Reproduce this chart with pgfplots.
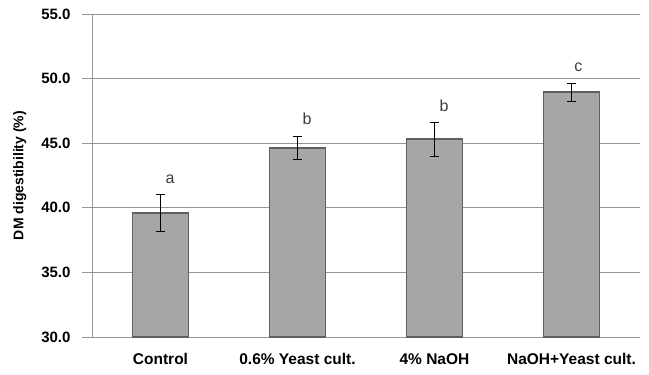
\documentclass[border=0pt]{standalone}
\usepackage{pgfplots}
\pgfplotsset{compat=1.18}
\usepackage{fontspec}
\setmainfont{Liberation Sans}
\definecolor{barfill}{RGB}{166,166,166}
\definecolor{baredge}{RGB}{95,95,95}
\definecolor{gridc}{RGB}{150,150,150}
\definecolor{letc}{RGB}{60,60,60}
\begin{document}
\begin{tikzpicture}
\useasboundingbox (-92pt,-38pt) rectangle (557pt,337pt);
\begin{axis}[
  at={(0,0)}, anchor=south west,
  scale only axis, width=548pt, height=323pt,
  xmin=-0.5, xmax=3.5, ymin=30, ymax=55,
  xtick={0,1,2,3},
  xticklabels={Control,{0.6\% Yeast cult.},{4\% NaOH},{NaOH+Yeast cult.}},
  ytick={30,35,40,45,50,55},
  /pgf/number format/.cd, fixed, fixed zerofill, precision=1, assume math mode=true, /pgfplots/.cd,
  yticklabel style={font=\bfseries\fontsize{15}{18}\selectfont, xshift=-8pt},
  xticklabel style={font=\bfseries\fontsize{15.5}{18}\selectfont, yshift=-3pt},
  ylabel={DM digestibility (\%)},
  ylabel style={font=\bfseries\fontsize{14}{17}\selectfont, yshift=8pt},
  axis x line*=bottom, axis y line*=left,
  axis line style={gridc, line width=0.8pt},
  ymajorgrids, grid style={gridc, line width=0.8pt},
  tick align=outside, major tick length=10pt,
  ytick style={gridc, line width=0.8pt},
  xtick style={draw=none},
  clip=false,
]
\addplot[ybar, bar width=56pt, fill=barfill, draw=baredge, line width=1.8pt,
  error bars/.cd, y dir=both, y explicit,
  error bar style={black, line width=1pt},
  error mark options={rotate=90, black, mark size=4.5pt, line width=1pt}]
  coordinates {(0,39.6) +- (0,1.4) (1,44.6) +- (0,0.9) (2,45.3) +- (0,1.3) (3,48.95) +- (0,0.7)};
\addplot[draw=none, mark=none, nodes near coords, point meta=explicit symbolic,
  every node near coord/.append style={font=\fontsize{16}{19}\selectfont, text=letc, anchor=center}]
  coordinates {(0.07,42.2)[a] (1.07,46.9)[b] (2.07,47.9)[b] (3.05,50.9)[c]};
\end{axis}
\end{tikzpicture}
\end{document}
